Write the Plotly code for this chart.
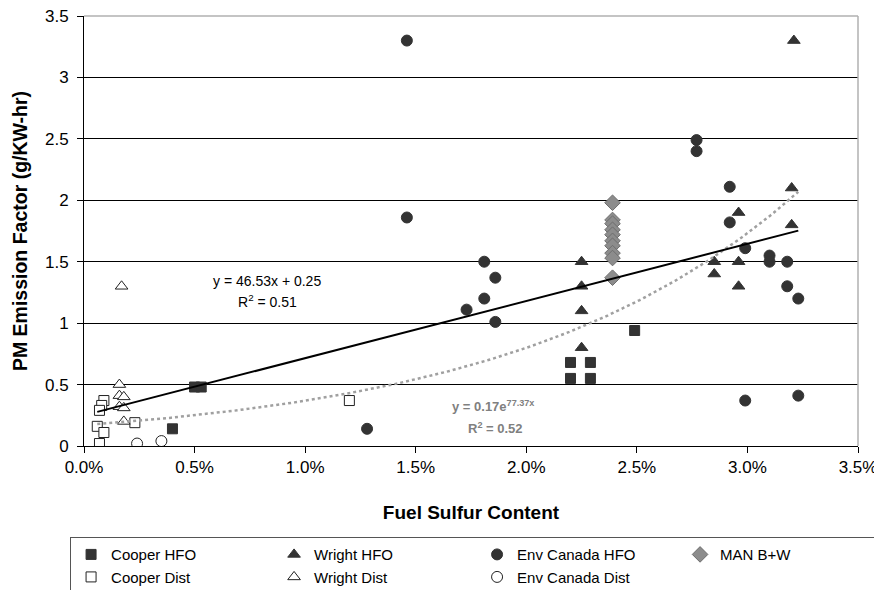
import numpy as np
import plotly.graph_objects as go

# ---- data (fuel sulfur as fraction, PM g/kW-hr) ----
cooper_hfo_x = [0.0040, 0.0050, 0.0053, 0.0220, 0.0220, 0.0229, 0.0229, 0.0249]
cooper_hfo_y = [0.14, 0.48, 0.48, 0.68, 0.55, 0.68, 0.55, 0.94]

wright_hfo_x = [0.0225, 0.0225, 0.0225, 0.0225, 0.0285, 0.0285, 0.0296, 0.0296, 0.0296, 0.0320, 0.0320, 0.0321]
wright_hfo_y = [1.50, 1.30, 1.10, 0.80, 1.50, 1.40, 1.90, 1.50, 1.30, 2.10, 1.80, 3.30]

env_hfo_x = [0.0128, 0.0146, 0.0146, 0.0173, 0.0181, 0.0181, 0.0186, 0.0186,
             0.0277, 0.0277, 0.0292, 0.0292, 0.0299, 0.0299, 0.0310, 0.0310,
             0.0318, 0.0318, 0.0323, 0.0323]
env_hfo_y = [0.14, 3.30, 1.86, 1.11, 1.50, 1.20, 1.37, 1.01,
             2.49, 2.40, 2.11, 1.82, 1.61, 0.37, 1.55, 1.50,
             1.50, 1.30, 1.20, 0.41]

man_x = [0.0239] * 10
man_y = [1.98, 1.84, 1.81, 1.76, 1.72, 1.67, 1.63, 1.57, 1.53, 1.37]

cooper_dist_x = [0.0009, 0.0008, 0.0007, 0.0006, 0.0009, 0.0007, 0.0023, 0.0120]
cooper_dist_y = [0.37, 0.33, 0.29, 0.16, 0.11, 0.02, 0.19, 0.37]

wright_dist_x = [0.0017, 0.0016, 0.0016, 0.0018, 0.0016, 0.0018, 0.0018]
wright_dist_y = [1.30, 0.50, 0.41, 0.40, 0.32, 0.31, 0.20]

env_dist_x = [0.0024, 0.0035]
env_dist_y = [0.02, 0.04]

# trendline coefficients (as printed on the chart)
lin_slope, lin_int = 46.53, 0.25
exp_a, exp_b = 0.17, 77.37

FONT = "Liberation Sans, Arial, sans-serif"
DARK = "#333333"

fig = go.Figure()

def add(x, y, name, symbol, size, color, line_color, line_width=1):
    fig.add_trace(go.Scatter(
        x=x, y=y, mode="markers", name=name,
        marker=dict(symbol=symbol, size=size, color=color,
                    line=dict(color=line_color, width=line_width)),
        hoverinfo="x+y"))

add(cooper_hfo_x, cooper_hfo_y, "Cooper HFO", "square", 10, DARK, DARK)
add(wright_hfo_x, wright_hfo_y, "Wright HFO", "triangle-up", 11, DARK, DARK)
add(env_hfo_x, env_hfo_y, "Env Canada HFO", "circle", 11, DARK, DARK)
add(man_x, man_y, "MAN B+W", "diamond", 12, "#8c8c8c", "#6e6e6e")
add(cooper_dist_x, cooper_dist_y, "Cooper Dist", "square", 10, "white", "#222222")
add(wright_dist_x, wright_dist_y, "Wright Dist", "triangle-up", 11, "white", "#222222")
add(env_dist_x, env_dist_y, "Env Canada Dist", "circle", 11, "white", "#222222")

all_x = (cooper_hfo_x + wright_hfo_x + env_hfo_x + man_x + cooper_dist_x
         + wright_dist_x + env_dist_x)
xs = np.linspace(min(all_x), max(all_x), 200)

fig.add_trace(go.Scatter(x=xs, y=exp_a * np.exp(exp_b * xs), mode="lines",
                         line=dict(color="#a0a0a0", width=2.5, dash="dot"),
                         showlegend=False, hoverinfo="skip"))
fig.add_trace(go.Scatter(x=[xs[0], xs[-1]],
                         y=[lin_slope * xs[0] + lin_int, lin_slope * xs[-1] + lin_int],
                         mode="lines", line=dict(color="black", width=2),
                         showlegend=False, hoverinfo="skip"))

annots = [
    dict(x=0.00829, y=1.343, text="y = 46.53x + 0.25", font=dict(size=14, color="black")),
    dict(x=0.00829, y=1.18, text="R<sup>2</sup> = 0.51", font=dict(size=14, color="black")),
    dict(x=0.0185, y=0.326, text="<b>y = 0.17e<sup>77.37x</sup></b>", font=dict(size=13, color="#808080")),
    dict(x=0.0186, y=0.147, text="<b>R<sup>2</sup> = 0.52</b>", font=dict(size=13, color="#808080")),
]
for a in annots:
    a.update(xref="x", yref="y", showarrow=False, xanchor="center", yanchor="middle")
    a["font"]["family"] = FONT
    fig.add_annotation(**a)

# gray plot-area border (top and right)
fig.add_shape(type="line", xref="paper", yref="paper", x0=0, x1=1, y0=1, y1=1,
              line=dict(color="#b0b0b0", width=1.5))
fig.add_shape(type="line", xref="paper", yref="paper", x0=1, x1=1, y0=0, y1=1,
              line=dict(color="#b0b0b0", width=1.5))

fig.update_layout(
    width=882, height=590,
    margin=dict(l=76, r=32, t=8, b=152, autoexpand=False),
    paper_bgcolor="white", plot_bgcolor="white",
    font=dict(family=FONT, color="black"),
    showlegend=True,
    legend=dict(orientation="h", x=-0.018, xanchor="left", y=-0.212, yanchor="top",
                bordercolor="#555555", borderwidth=1, bgcolor="white",
                font=dict(size=15, family=FONT, color="black"),
                entrywidth=158, entrywidthmode="pixels", itemwidth=30,
                traceorder="normal"),
    xaxis=dict(range=[0, 0.035], dtick=0.005, tick0=0, tickformat=".1%",
               showgrid=False, zeroline=False, showline=True, linecolor="black",
               linewidth=1, ticks="outside", ticklen=6, tickcolor="black",
               tickfont=dict(size=17), automargin=False, ticklabeloverflow="allow",
               title=dict(text="<b>Fuel Sulfur Content</b>", font=dict(size=19), standoff=29)),
    yaxis=dict(range=[0, 3.5], dtick=0.5, tick0=0,
               showgrid=True, gridcolor="black", gridwidth=1, zeroline=False,
               showline=True, linecolor="black", linewidth=1,
               ticks="outside", ticklen=6, tickcolor="black", ticklabelstandoff=5,
               tickfont=dict(size=17), automargin=False, ticklabeloverflow="allow",
               title=dict(text="<b>PM Emission Factor (g/KW-hr)</b>", font=dict(size=19.5), standoff=12)),
)

fig.write_html("out.html")
